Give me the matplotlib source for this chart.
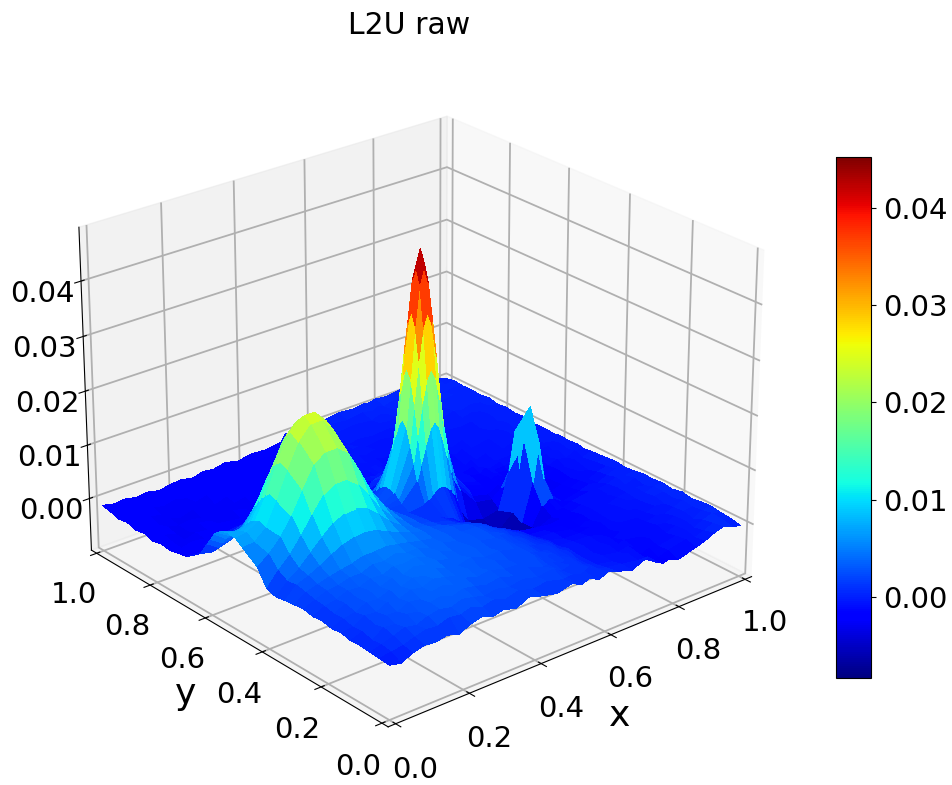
import numpy as np
import matplotlib
matplotlib.use('Agg')
import matplotlib.pyplot as plt

# mesh nodes, closer together around the tall peak
x_nodes = [0, .031, .063, .094, .125, .156, .188, .219, .25, .28, .31, .345, .38, .42, .46, .505,
           .517, .53, .543, .555, .567, .58, .592, .605,
           .63, .675, .722, .752, .768, .784, .812, .865, .892, .919, .946, .973, 1]
y_steps = [0, 1, 2, 3, 4, 5, 6, 7, 8, 9, 10, 11, 12, 13, 14, 15.6, 16.4, 16.8, 17.2, 17.6, 18, 18.4, 18.8, 19.2,
           19.6, 20.4, 22, 23, 24, 25, 26, 27, 28, 29, 30, 31, 32]

# surface heights, in units of 1e-4
# one row per y node (y=0 first), one column per x node
z_rows = [
[0,-5,5,10,8,12,5,15,20,12,18,10,22,14,8,15,10,6,9,12,7,2,6,10,5,-5,8,-10,-15,-12,-20,-10,-5,3,8,2,-3],
[2,5,8,15,20,18,25,22,28,20,25,18,24,16,20,12,13,14,11,8,11,15,10,6,2,-3,-8,-14,-20,-18,-12,-5,-8,-2,5,6,1],
[3,8,15,22,18,26,30,25,32,28,22,26,20,25,18,22,17,12,14,16,13,10,7,5,-2,-8,-5,-12,-15,-10,-14,-8,-3,-6,2,8,3],
[5,6,20,18,28,24,32,36,28,34,30,24,28,20,26,16,17,18,14,10,12,14,9,4,-3,-6,-12,-8,-14,-16,-8,-12,-5,-1,-5,4,6],
[4,12,16,24,22,32,28,34,38,30,36,28,32,24,22,26,20,14,16,18,13,8,9,10,-2,-10,-8,-14,-10,-12,-15,-6,-9,-3,0,2,5],
[8,10,22,20,30,28,36,32,40,35,30,34,26,30,20,24,21,18,15,12,13,15,10,5,0,-6,-12,-10,-16,-8,-12,-10,-4,-7,-2,5,2],
[6,15,18,28,26,34,32,40,36,42,34,30,36,26,28,20,21,22,18,14,12,10,9,8,-5,-8,-10,-15,-12,-14,-7,-11,-8,-2,-4,0,6],
[10,14,24,26,32,30,38,36,44,38,40,32,30,34,24,26,21,16,17,18,13,8,6,4,-4,-12,-14,-10,-16,-9,-12,-6,-10,-5,1,3,2],
[8,18,22,30,28,36,34,42,40,44,36,38,30,32,28,22,23,24,18,12,11,10,6,2,-8,-10,-16,-18,-12,-14,-10,-8,-3,-7,-2,4,5],
[12,20,28,30,36,36,44,42,48,42,42,34,36,28,30,24,21,18,17,16,11,6,3,0,-12,-15,-18,-14,-20,-12,-8,-12,-6,-4,0,-3,3],
[10,24,30,36,40,44,50,50,52,48,44,38,34,32,26,24,22,20,15,10,7,4,-1,-6,-14,-20,-24,-22,-18,-16,-10,-8,-10,-3,-5,2,4],
[8,28,36,46,58,68,74,76,72,62,54,44,38,30,28,20,18,16,12,8,1,-6,-15,-24,-34,-34,-36,-28,-20,-18,-12,-6,-8,-5,1,-2,1],
[5,25,40,60,80,98,108,110,102,85,65,48,36,28,20,12,10,8,3,-2,-12,-30,-38,-45,-52,-52,-50,-15,-8,-10,-22,-14,-8,-12,-4,2,-1],
[10,35,55,82,112,140,154,154,138,110,80,55,38,25,16,8,4,0,-6,-18,-30,-45,-55,-65,-72,-83,-50,20,90,20,-20,-18,-10,-14,-6,-2,2],
[40,55,78,108,148,185,200,200,184,146,104,68,42,26,14,6,2,-2,-5,-12,-22,-35,-48,-60,-70,-66,-38,90,150,90,-30,-20,-14,-8,-12,-4,0],
[60,62,80,122,170,212,236,236,212,170,118,74,42,22,10,14,21,29,36,38,34,25,12,-20,-45,-55,-48,20,90,15,-28,-22,-10,-14,-5,-8,-2],
[70,72,85,128,178,222,245,245,222,176,120,74,40,20,18,51,82,114,141,151,138,108,75,44,5,-30,-36,-20,-12,-22,-24,-16,-12,-6,-10,-2,-4],
[71,70,82,121,171,215,236,236,214,169,115,70,37,19,24,82,132,186,228,244,226,182,128,78,14,-22,-30,-20,-14,-20,-18,-15,-10,-8,-6,-4,-2],
[72,68,78,114,164,206,228,228,206,162,110,66,34,18,32,114,186,262,321,344,319,258,180,108,22,-12,-22,-18,-15,-18,-12,-14,-8,-10,-3,-6,-1],
[70,63,70,103,148,189,211,211,189,146,99,59,30,14,36,141,228,321,394,422,392,318,222,134,30,-9,-19,-16,-12,-16,-14,-11,-9,-7,-5,-4,-2],
[68,58,62,92,132,168,188,188,168,130,88,52,26,10,38,151,244,344,422,452,422,344,240,146,32,-6,-16,-14,-10,-14,-16,-8,-10,-4,-8,-2,-3],
[62,49,51,78,112,144,161,161,144,111,74,43,21,8,34,141,228,321,394,422,394,321,226,136,30,-7,-14,-15,-9,-13,-11,-9,-7,-6,-5,-3,-2],
[55,40,40,64,92,120,134,134,120,92,60,34,16,6,29,114,186,262,321,344,321,262,184,110,24,-8,-12,-16,-8,-12,-7,-11,-4,-8,-2,-5,-1],
[42,28,31,51,74,97,109,109,97,74,48,27,12,4,20,82,132,186,228,244,228,186,130,78,16,-9,-13,-12,-10,-9,-8,-8,-6,-5,-4,-3,-2],
[30,16,22,38,56,74,84,84,74,56,36,20,8,2,13,51,82,114,141,151,141,114,80,48,8,-10,-14,-9,-13,-6,-10,-5,-9,-3,-6,-1,-4],
[5,0,8,16,28,38,42,44,38,28,18,8,2,-4,-2,13,21,29,36,39,36,29,20,10,-6,-12,-8,-14,-7,-11,-5,-9,-2,-7,-1,-4,-2],
[-16,-18,-13,-4,0,6,8,10,6,0,-5,-10,-16,-18,-22,-16,-3,0,2,5,3,-2,-5,-8,-12,-7,-13,-6,-10,-4,-9,-3,-7,-1,-5,1,-3],
[-19,-25,-21,-17,-12,-10,-9,-11,-12,-15,-19,-23,-20,-27,-23,-26,-9,-6,-8,-10,-7,-5,-8,-12,-6,-11,-4,-10,-5,-8,-2,-7,-1,-6,2,-3,1],
[-23,-27,-22,-25,-20,-23,-18,-21,-24,-19,-25,-22,-27,-20,-25,-21,-9,-13,-10,-8,-6,-4,-7,-11,-7,-9,-5,-12,-6,-3,-8,-4,-6,0,-4,3,-1],
[-20,-25,-29,-23,-26,-21,-24,-27,-20,-23,-28,-21,-24,-26,-19,-25,-8,-7,-5,-3,-6,-9,-7,-5,-12,-6,-2,-8,-4,-7,-1,-5,-2,-6,1,-2,2],
[-24,-21,-27,-30,-22,-25,-28,-21,-26,-29,-22,-25,-20,-27,-23,-19,-7,-11,-8,-6,-4,-2,-5,-8,-4,-9,-5,-1,-7,-3,-6,0,-4,1,-3,2,0],
[-19,-26,-23,-28,-25,-29,-22,-27,-24,-20,-26,-23,-28,-21,-25,-22,-5,-3,-6,-9,-7,-5,-3,-1,-7,-3,-8,-4,0,-5,-2,-4,2,-2,3,0,4],
[-22,-20,-28,-24,-30,-23,-26,-29,-21,-27,-23,-19,-25,-22,-17,-23,-6,-5,-7,-9,-6,-3,-4,-6,-1,-5,-2,-6,-3,1,-4,2,-1,4,0,3,1],
[-17,-24,-21,-27,-23,-28,-25,-20,-27,-22,-25,-21,-18,-24,-20,-22,-4,-2,-4,-6,-2,1,-1,-4,-2,-6,0,-3,2,-2,3,-1,5,1,4,-1,3],
[-20,-18,-25,-22,-26,-21,-27,-24,-19,-23,-20,-24,-17,-21,-18,-15,-2,-5,-3,-1,-2,-4,-1,2,-3,0,-4,3,-1,4,0,5,2,6,1,4,2],
[-15,-21,-19,-24,-20,-25,-19,-22,-25,-18,-21,-17,-22,-15,-19,-16,1,2,0,-3,-1,1,-1,-2,3,-1,4,0,5,1,6,3,7,2,5,1,4],
[-12,-17,-15,-20,-17,-22,-18,-16,-21,-15,-18,-13,-19,-14,-16,-12,1,0,2,4,3,2,3,5,1,6,3,7,4,8,5,9,4,6,2,5,0],
]

xy_ticks = [0.0, 0.2, 0.4, 0.6, 0.8, 1.0]
z_ticks = [0.00, 0.01, 0.02, 0.03, 0.04]

Z = np.array(z_rows) * 1e-4
x = np.array(x_nodes)
y = np.array(y_steps) / 32
X, Y = np.meshgrid(x, y)

plt.rcParams['grid.linewidth'] = 1.3
fig = plt.figure(figsize=(9.53, 7.85), dpi=100)
ax = fig.add_axes([0.0045, 0.0, 0.85, 0.945], projection='3d')
surf = ax.plot_surface(X, Y, Z, cmap='jet', rstride=1, cstride=1,
                       linewidth=0, antialiased=False,
                       vmin=-0.0083, vmax=0.0452)
ax.view_init(elev=25, azim=-130)
ax.set_xlim(-0.02, 1.02)
ax.set_ylim(-0.02, 1.02)
ax.set_zlim(-0.0098, 0.0496)

ax.set_xticks(xy_ticks)
ax.set_yticks(xy_ticks)
ax.set_zticks(z_ticks)
ax.set_zticklabels(['%.2f' % t for t in z_ticks])
ax.tick_params(labelsize=21)
ax.tick_params(axis='z', pad=8)
ax.tick_params(axis='x', pad=9)
ax.tick_params(axis='y', pad=9)
ax.set_xlabel('x', fontsize=26, labelpad=16)
ax.set_ylabel('y', fontsize=26, labelpad=14)

fig.text(409 / 953, 1 - 25 / 785, 'L2U raw', fontsize=21.5, ha='center', va='center')

cax = fig.add_axes([836 / 953, 107 / 785, 35 / 953, 521 / 785])
cb = fig.colorbar(surf, cax=cax)
cb.set_ticks(z_ticks)
cb.set_ticklabels(['%.2f' % t for t in z_ticks])
cb.ax.tick_params(labelsize=21, pad=5)

fig.savefig('out.png', dpi=100)
